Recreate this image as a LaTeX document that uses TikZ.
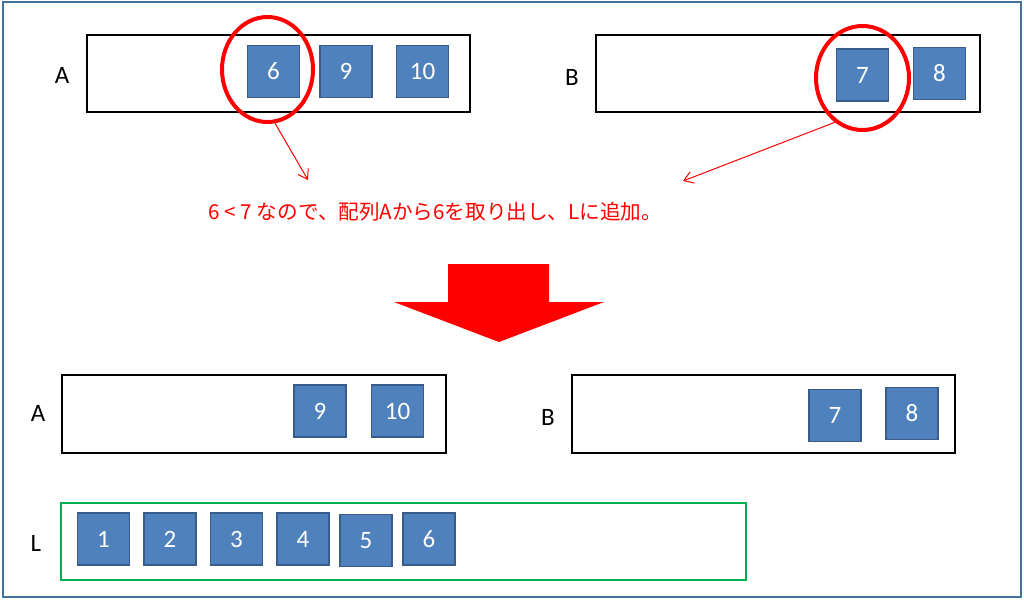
\documentclass[tikz,border=0pt]{standalone}
\usepackage{fontspec}
\setmainfont{Carlito}
\newfontfamily\jpfont{Noto Sans CJK JP}
\usetikzlibrary{shapes.geometric,arrows.meta}

\definecolor{frameblue}{RGB}{65,113,156}
\definecolor{cellfill}{RGB}{79,129,189}
\definecolor{celledge}{RGB}{56,93,138}
\definecolor{listgreen}{RGB}{0,176,80}

\tikzstyle{arraybox}=[draw=black, line width=2.5pt, minimum height=77pt, inner sep=0pt]
\tikzstyle{cellbox}=[fill=cellfill, draw=celledge, line width=1.5pt, minimum size=52pt, inner sep=0pt, text=white, font=\fontsize{25}{30}\selectfont]
\tikzstyle{arrlabel}=[inner sep=0pt, font=\fontsize{25}{30}\selectfont]
\tikzstyle{pick}=[ellipse, draw=red, line width=4pt, minimum width=91pt, minimum height=105pt, inner sep=0pt]
\tikzstyle{note}=[red, line width=1pt, -{Straight Barb[length=9pt,width=12pt]}]

\begin{document}
\begin{tikzpicture}[x=1pt,y=-1pt]
\useasboundingbox (0,0) rectangle (1024,599);
\draw [frameblue, line width=2pt] (3,2) rectangle (1021,597);
% before
\node [arraybox, minimum width=383pt] (topA) at (278.5,73.5) {};
\node [arrlabel] (topAname) at (62,75) {A};
\node [cellbox] (topA6) at (273.5,71.5) {6};
\node [cellbox] (topA9) at (346,71.5) {9};
\node [cellbox] (topA10) at (422.5,71.5) {10};
\node [arraybox, minimum width=384pt] (topB) at (788,73.5) {};
\node [arrlabel] (topBname) at (572,77) {B};
\node [cellbox] (topB7) at (862.5,75) {7};
\node [cellbox] (topB8) at (939.5,73.5) {8};
\node [pick] (pickA) at (267.5,69.5) {};
\node [pick, minimum width=93pt, minimum height=104pt] (pickB) at (862.5,78) {};
\node [text=red, inner sep=0pt, font=\jpfont\fontsize{20.6}{25}\selectfont] (msg) at (435.5,212) {6 < 7 なので、配列Aから6を取り出し、Lに追加。};
\coordinate (msgA) at (308,180);
\coordinate (msgB) at (683,181);
\draw [note] (pickA.-82) -- (msgA);
\draw [note] (pickB.-122) -- (msgB);
\fill [red] (448,264) -- (549,264) -- (549,302) -- (604,302) -- (499,342) -- (394,302) -- (448,302) -- cycle;
% after
\node [arraybox, minimum width=384pt, minimum height=78pt] (botA) at (254,414) {};
\node [arrlabel] (botAname) at (38,413) {A};
\node [cellbox] (botA9) at (320,411) {9};
\node [cellbox] (botA10) at (397.5,411) {10};
\node [arraybox, minimum width=383pt, minimum height=78pt] (botB) at (763.5,414) {};
\node [arrlabel] (botBname) at (548,417) {B};
\node [cellbox] (botB7) at (835,415.5) {7};
\node [cellbox] (botB8) at (912,413.5) {8};
\node [arraybox, draw=listgreen, minimum width=685pt] (list) at (403.5,541.5) {};
\node [arrlabel] (listname) at (36,543) {L};
\node [cellbox] (L1) at (103.5,539) {1};
\node [cellbox] (L2) at (170,539) {2};
\node [cellbox] (L3) at (236.5,539) {3};
\node [cellbox] (L4) at (303,539) {4};
\node [cellbox] (L5) at (366,540.5) {5};
\node [cellbox] (L6) at (429,539) {6};
\end{tikzpicture}
\end{document}
